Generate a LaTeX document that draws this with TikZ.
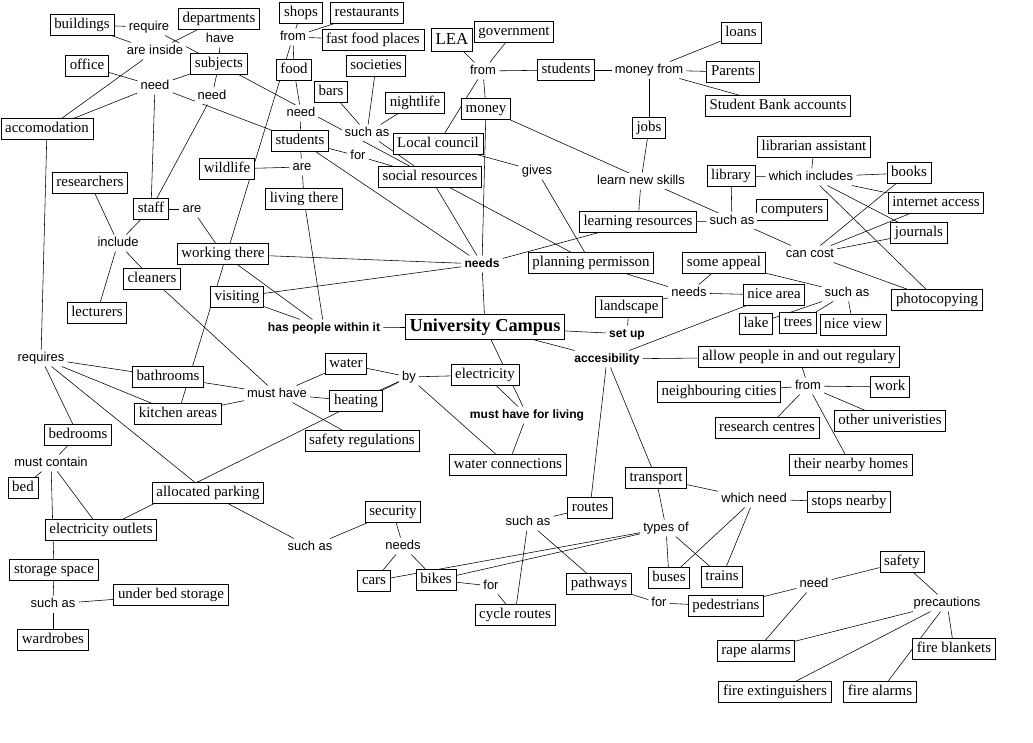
\documentclass[tikz,border=0pt]{standalone}
\usepackage{fontspec}
\setmainfont{Liberation Serif}
\newfontfamily\linkfont{Liberation Sans}
\pgfdeclarelayer{background}
\pgfsetlayers{background,main}
\tikzset{
  concept/.style={draw, fill=white, line width=0.6pt, inner xsep=3pt, inner ysep=2.3pt,
    text height=7.6pt, text depth=2.6pt, font=\fontsize{10.6}{12}\selectfont},
  link/.style={fill=white, inner xsep=2pt, inner ysep=1.5pt,
    text height=6.6pt, text depth=1.9pt, font=\linkfont\fontsize{9.2}{11}\selectfont},
  boldlink/.style={link, font=\linkfont\bfseries\fontsize{8.6}{10}\selectfont},
}
\begin{document}
\begin{tikzpicture}[x=0.025cm, y=-0.025cm, line width=0.6pt]
  % page frame, in pixels of the reference
  \useasboundingbox (0,0) rectangle (1033,743);

  % Concepts (boxes)
  \node[concept] (bld) at (82,25)  {buildings};
  \node[concept] (dep) at (219,19) {departments};
  \node[concept] (off) at (87,66)  {office};
  \node[concept] (sub) at (219,64) {subjects};
  \node[concept] (acc) at (47,129) {accomodation};
  \node[concept] (shp) at (301,13) {shops};
  \node[concept] (rst) at (367,13) {restaurants};
  \node[concept] (ffp) at (373,40) {fast food places};
  \node[concept] (fod) at (294,70) {food};
  \node[concept] (soc) at (376,66) {societies};
  \node[concept] (bar) at (331,92) {bars};
  \node[concept] (ngt) at (415,103) {nightlife};
  \node[concept, text height=8.6pt, font=\fontsize{12}{14}\selectfont] (lea) at (452,40) {LEA};
  \node[concept] (gov) at (514,32) {government};
  \node[concept] (mon) at (486,109) {money};
  \node[concept] (stA) at (566,70) {students};
  \node[concept] (lns) at (741,33) {loans};
  \node[concept] (par) at (733,72) {Parents};
  \node[concept] (sba) at (778,106) {Student Bank accounts};
  \node[concept] (job) at (649,128) {jobs};
  \node[concept] (lcc) at (438,144) {Local council};
  \node[concept] (stB) at (300,141) {students};
  \node[concept] (wld) at (227,169) {wildlife};
  \node[concept] (scr) at (430,177) {social resources};
  \node[concept] (liv) at (304,199) {living there};
  \node[concept] (lba) at (814,147) {librarian assistant};
  \node[concept] (lib) at (731,176) {library};
  \node[concept] (bok) at (909,173) {books};
  \node[concept] (int) at (936,203) {internet access};
  \node[concept] (cmp) at (792,210) {computers};
  \node[concept] (jrn) at (919,233) {journals};
  \node[concept] (lrn) at (638,222) {learning resources};
  \node[concept] (rsr) at (90,183)  {researchers};
  \node[concept] (stf) at (151,209) {staff};
  \node[concept] (wrk) at (223,254) {working there};
  \node[concept] (cln) at (152,279) {cleaners};
  \node[concept] (vis) at (237,297) {visiting};
  \node[concept] (lec) at (97,313)  {lecturers};
  \node[concept] (pln) at (591,263) {planning permisson};
  \node[concept] (app) at (724,263) {some appeal};
  \node[concept] (nic) at (774,295) {nice area};
  \node[concept] (lnd) at (629,307) {landscape};
  \node[concept] (lak) at (756,324) {lake};
  \node[concept] (tre) at (798,323) {trees};
  \node[concept] (nvw) at (853,325) {nice view};
  \node[concept] (pht) at (937,300) {photocopying};
  \node[concept, inner ysep=2.8pt, text height=9pt, text depth=3pt,
        font=\bfseries\fontsize{13}{15}\selectfont] (uc) at (485,327) {University Campus};
  \node[concept] (alw) at (799,357) {allow people in and out regulary};
  \node[concept] (ngh) at (719,392) {neighbouring cities};
  \node[concept] (wor) at (890,387) {work};
  \node[concept] (oth) at (890,421) {other univeristies};
  \node[concept] (rsc) at (767,428) {research centres};
  \node[concept] (hom) at (851,465) {their nearby homes};
  \node[concept] (wat) at (346,364) {water};
  \node[concept] (ele) at (485,375) {electricity};
  \node[concept] (bth) at (168,377) {bathrooms};
  \node[concept] (hea) at (356,401) {heating};
  \node[concept] (kit) at (178,414) {kitchen areas};
  \node[concept] (sfr) at (362,441) {safety regulations};
  \node[concept] (wcn) at (508,465) {water connections};
  \node[concept] (bdr) at (78,435)  {bedrooms};
  \node[concept] (bd)  at (23,488)  {bed};
  \node[concept] (prk) at (208,493) {allocated parking};
  \node[concept] (elo) at (101,530) {electricity outlets};
  \node[concept] (sto) at (54,570)  {storage space};
  \node[concept] (ubs) at (171,595) {under bed storage};
  \node[concept] (wdr) at (53,640)  {wardrobes};
  \node[concept] (sec) at (393,512) {security};
  \node[concept] (car) at (374,581) {cars};
  \node[concept] (bik) at (436,580) {bikes};
  \node[concept] (cyc) at (515,615) {cycle routes};
  \node[concept] (rou) at (590,508) {routes};
  \node[concept] (trn) at (656,478) {transport};
  \node[concept] (stp) at (849,502) {stops nearby};
  \node[concept] (pth) at (599,584) {pathways};
  \node[concept] (bus) at (669,578) {buses};
  \node[concept] (trs) at (722,577) {trains};
  \node[concept] (ped) at (726,606) {pedestrians};
  \node[concept] (saf) at (902,562) {safety};
  \node[concept] (rap) at (756,651) {rape alarms};
  \node[concept] (fbl) at (954,649) {fire blankets};
  \node[concept] (fex) at (775,692) {fire extinguishers};
  \node[concept] (fal) at (880,692) {fire alarms};

  % Linking phrases
  \node[link] (lReq)  at (149,27)  {require};
  \node[link] (lIns)  at (155,51)  {are inside};
  \node[link] (lHav)  at (220,39)  {have};
  \node[link] (lNdA)  at (155,86)  {need};
  \node[link] (lNdB)  at (212,96)  {need};
  \node[link] (lFrA)  at (293,37)  {from};
  \node[link] (lNdC)  at (301,113) {need};
  \node[link] (lSuA)  at (367,133) {such as};
  \node[link] (lFrB)  at (483,71)  {from};
  \node[link] (lMfr)  at (649,70)  {money from};
  \node[link] (lAreA) at (302,167) {are};
  \node[link] (lFor)  at (358,156) {for};
  \node[link] (lGiv)  at (537,171) {gives};
  \node[link] (lLns)  at (641,181) {learn new skills};
  \node[link] (lWin)  at (811,177) {which includes};
  \node[link] (lSuB)  at (732,221) {such as};
  \node[link] (lCst)  at (810,254) {can cost};
  \node[link] (lAreB) at (192,209) {are};
  \node[link] (lInc)  at (118,243) {include};
  \node[boldlink] (lNds) at (482,264) {needs};
  \node[link] (lNdsB) at (689,293) {needs};
  \node[link] (lSuC)  at (847,293) {such as};
  \node[boldlink] (lHpw) at (324,328) {has people within it};
  \node[boldlink] (lSet) at (627,334) {set up};
  \node[boldlink] (lAcc) at (607,359) {accesibility};
  \node[link] (lFrC)  at (808,386) {from};
  \node[link] (lReqs) at (41,358)  {requires};
  \node[link] (lMhv)  at (277,394) {must have};
  \node[link] (lBy)   at (409,377) {by};
  \node[boldlink] (lMfl) at (527,415) {must have for living};
  \node[link] (lMct)  at (51,463)  {must contain};
  \node[link] (lSuD)  at (310,547) {such as};
  \node[link] (lNdsC) at (403,546) {needs};
  \node[link] (lSuE)  at (528,522) {such as};
  \node[link] (lTyp)  at (666,528) {types of};
  \node[link] (lWnd)  at (754,499) {which need};
  \node[link] (lForB) at (491,586) {for};
  \node[link] (lForC) at (659,603) {for};
  \node[link] (lSuF)  at (53,604)  {such as};
  \node[link] (lNdD)  at (814,584) {need};
  \node[link] (lPre)  at (947,603) {precautions};

  % Connectors go behind the boxes
  \begin{pgfonlayer}{background}
    \foreach \a/\b in {bld/lReq, lReq/sub, bld/lIns, dep/lIns, lIns/acc, dep/lHav, lHav/sub,
        off/lNdA, sub/lNdA, lNdA/acc, lNdA/stf, lNdA/stB, sub/scr, sub/lNdB, lNdB/stf,
        stf/lAreB, lAreB/wrk, rsr/lInc, lInc/stf, lInc/lec, lInc/cln, acc/lReqs,
        shp/lFrA, lFrA/rst, lFrA/ffp, lFrA/fod, lFrA/kit, fod/lNdC, lNdC/stB,
        soc/lSuA, bar/lSuA, ngt/lSuA, lSuA/scr, stB/lFor, lFor/scr,
        stB/lAreA, wld/lAreA, lAreA/liv, stB/lNds, scr/lNds, scr/pln,
        lea/lFrB, gov/lFrB, lFrB/stA, lFrB/mon, lcc/lFrB, mon/lNds, mon/lCst,
        lcc/lGiv, lGiv/pln, stA/lMfr, lMfr/lns, lMfr/par, lMfr/sba, lMfr/job,
        job/lLns, lLns/lrn, lrn/lSuB, lib/lSuB, lSuB/cmp, lib/lWin, lba/lWin,
        lWin/bok, lWin/int, lWin/jrn, lWin/pht, bok/lCst, int/lCst, jrn/lCst, pht/lCst,
        lrn/lNds, wrk/lNds, vis/lNds, lNds/uc, wrk/lHpw, vis/lHpw, liv/lHpw, lHpw/uc,
        pln/lNdsB, app/lNdsB, lnd/lNdsB, lNdsB/nic, app/lSuC, lSuC/lak, lSuC/tre, lSuC/nvw,
        lnd/lSet, uc/lSet, uc/lAcc, lAcc/nic, lAcc/alw, lAcc/rou, lAcc/trn,
        alw/lFrC, lFrC/ngh, lFrC/wor, lFrC/oth, lFrC/rsc, lFrC/hom,
        uc/lMfl, ele/lMfl, lMfl/wcn, lMhv/wat, lMhv/hea, lMhv/sfr, cln/lMhv, bth/lMhv, kit/lMhv,
        wat/lBy, hea/lBy, elo/lBy, lBy/ele, lBy/wcn,
        lReqs/bth, lReqs/kit, lReqs/bdr, lReqs/prk, bdr/lMct, lMct/bd, lMct/elo, lMct/sto,
        sto/lSuF, lSuF/ubs, lSuF/wdr, prk/lSuD, lSuD/sec, sec/lNdsC, lNdsC/car, lNdsC/bik,
        car/lTyp, bik/lTyp, bik/lForB, lForB/cyc, lSuE/cyc, lSuE/rou, lSuE/pth,
        pth/lForC, lForC/ped, trn/lTyp, trn/lWnd, lWnd/stp, lWnd/bus, lWnd/trs,
        lTyp/bus, lTyp/trs, ped/lNdD, lNdD/saf, lNdD/rap, saf/lPre,
        lPre/rap, lPre/fex, lPre/fal, lPre/fbl}
      \draw (\a) -- (\b);
  \end{pgfonlayer}
\end{tikzpicture}
\end{document}
